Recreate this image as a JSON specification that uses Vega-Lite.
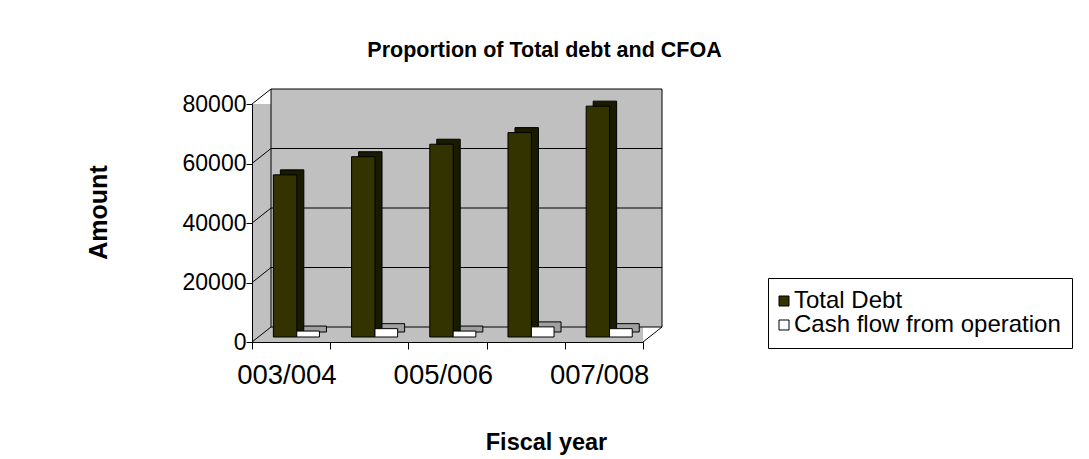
{
  "$schema": "https://vega.github.io/schema/vega-lite/v6.json",
  "autosize": "none",
  "width": 391,
  "height": 238,
  "padding": {"left": 252, "top": 104, "right": 446, "bottom": 117},
  "background": "white",
  "config": {
    "font": "Liberation Sans",
    "view": {"fill": "#C0C0C0", "stroke": null},
    "axis": {"labelColor": "black", "titleColor": "black", "domainColor": "black", "tickColor": "black", "grid": false}
  },
  "title": {
    "text": "Proportion of Total debt and CFOA",
    "frame": "group",
    "anchor": "middle",
    "dx": 97,
    "dy": 37,
    "offset": 47,
    "baseline": "alphabetic",
    "fontSize": 21.5,
    "fontWeight": "bold",
    "color": "black"
  },
  "resolve": {"scale": {"x": "independent"}},
  "layer": [
    {
      "layer": [
        {
          "data": {"values": [{"lo": 0, "hi": 80000}]},
          "mark": {"type": "rect", "fill": "#C0C0C0", "stroke": "black", "strokeWidth": 1, "xOffset": 19, "x2Offset": 19, "yOffset": -15, "y2Offset": -15},
          "encoding": {
            "x": {"datum": 0, "type": "quantitative", "scale": {"domain": [0, 1], "nice": false, "zero": false}, "axis": null},
            "x2": {"datum": 1},
            "y": {"field": "lo", "type": "quantitative", "scale": {"domain": [0, 80000], "nice": false}},
            "y2": {"field": "hi"}
          }
        },
        {
          "data": {"values": [{"g": 20000}, {"g": 40000}, {"g": 60000}]},
          "mark": {"type": "rule", "color": "black", "strokeWidth": 1, "xOffset": 19, "x2Offset": 19, "yOffset": -15},
          "encoding": {
            "x": {"datum": 0, "type": "quantitative"},
            "x2": {"datum": 1},
            "y": {"field": "g", "type": "quantitative"}
          }
        },
        {
          "data": {"values": [{"g": 0}, {"g": 20000}, {"g": 40000}, {"g": 60000}, {"g": 80000}]},
          "mark": {"type": "rule", "color": "black", "strokeWidth": 1, "x2Offset": 19, "y2Offset": -15},
          "encoding": {
            "x": {"datum": 0, "type": "quantitative"},
            "x2": {"datum": 0},
            "y": {"field": "g", "type": "quantitative"},
            "y2": {"field": "g"}
          }
        },
        {
          "data": {"values": [{"g": 0}]},
          "mark": {"type": "rule", "color": "black", "strokeWidth": 1, "x2Offset": 19, "y2Offset": -15},
          "encoding": {
            "x": {"datum": 1, "type": "quantitative"},
            "x2": {"datum": 1},
            "y": {"field": "g", "type": "quantitative"},
            "y2": {"field": "g"}
          }
        }
      ]
    },
    {
      "data": {
        "values": [
          {"year": "003/004", "series": "Total Debt", "value": 54500},
          {"year": "004/005", "series": "Total Debt", "value": 60600},
          {"year": "005/006", "series": "Total Debt", "value": 64800},
          {"year": "006/007", "series": "Total Debt", "value": 68700},
          {"year": "007/008", "series": "Total Debt", "value": 77600},
          {"year": "003/004", "series": "Cash flow from operation", "value": 2000},
          {"year": "004/005", "series": "Cash flow from operation", "value": 2800},
          {"year": "005/006", "series": "Cash flow from operation", "value": 2000},
          {"year": "006/007", "series": "Cash flow from operation", "value": 3400},
          {"year": "007/008", "series": "Cash flow from operation", "value": 2800}
        ]
      },
      "layer": [
        {
          "transform": [{"filter": "datum.series === 'Total Debt'"}],
          "mark": {"type": "bar", "fill": "#1A1A00", "stroke": "black", "strokeWidth": 1, "width": {"band": 0.3}, "xOffset": 1, "yOffset": -10, "y2Offset": -10},
          "encoding": {
            "x": {"field": "year", "type": "nominal"},
            "y": {"field": "value", "type": "quantitative"}
          }
        },
        {
          "transform": [{"filter": "datum.series === 'Total Debt'"}],
          "mark": {"type": "bar", "stroke": "black", "strokeWidth": 1, "width": {"band": 0.3}, "xOffset": -6, "yOffset": -5, "y2Offset": -5},
          "encoding": {
            "x": {"field": "year", "type": "nominal"},
            "y": {
              "field": "value",
              "type": "quantitative",
              "axis": {
                "title": "Amount",
                "values": [0, 20000, 40000, 60000, 80000],
                "format": "d",
                "labelFontSize": 23,
                "labelPadding": 0,
                "tickSize": 6,
                "titleFontSize": 25,
                "titleFontWeight": "bold",
                "titleX": -154,
                "titleY": 108,
                "titleAngle": -90,
                "titleAlign": "center",
                "titleBaseline": "middle"
              }
            },
            "color": {"field": "series", "type": "nominal"}
          }
        },
        {
          "transform": [{"filter": "datum.series === 'Cash flow from operation'"}],
          "mark": {"type": "bar", "fill": "#A0A0A0", "stroke": "black", "strokeWidth": 1, "width": {"band": 0.29}, "xOffset": 24, "yOffset": -10, "y2Offset": -10},
          "encoding": {
            "x": {"field": "year", "type": "nominal"},
            "y": {"field": "value", "type": "quantitative"}
          }
        },
        {
          "transform": [{"filter": "datum.series === 'Cash flow from operation'"}],
          "mark": {"type": "bar", "stroke": "black", "strokeWidth": 1, "width": {"band": 0.29}, "xOffset": 17, "yOffset": -5, "y2Offset": -5},
          "encoding": {
            "x": {
              "field": "year",
              "type": "nominal",
              "scale": {"paddingInner": 0, "paddingOuter": 0},
              "axis": {
                "orient": "bottom",
                "title": "Fiscal year",
                "labelAngle": 0,
                "labelFontSize": 27.5,
                "labelPadding": 26,
                "labelOffset": 45,
                "tickSize": 7,
                "tickBand": "extent",
                "labelExpr": "indexof(['003/004','005/006','007/008'], datum.value) >= 0 ? datum.label : ''",
                "titleFontSize": 23.5,
                "titleFontWeight": "bold",
                "titleX": 294,
                "titleY": 100,
                "titleAlign": "center",
                "titleBaseline": "middle"
              }
            },
            "y": {"field": "value", "type": "quantitative"},
            "color": {
              "field": "series",
              "type": "nominal",
              "scale": {"domain": ["Total Debt", "Cash flow from operation"], "range": ["#333300", "#FFFFFF"]},
              "legend": {
                "title": null,
                "orient": "none",
                "legendX": 516,
                "legendY": 174,
                "strokeColor": "black",
                "padding": 11,
                "symbolType": "square",
                "symbolSize": 100,
                "symbolOffset": -7,
                "symbolStrokeColor": "black",
                "symbolStrokeWidth": 1,
                "symbolOpacity": 1,
                "labelFontSize": 24,
                "labelColor": "black",
                "labelOffset": -2,
                "rowPadding": 0,
                "labelLimit": 400
              }
            }
          }
        }
      ]
    }
  ]
}
